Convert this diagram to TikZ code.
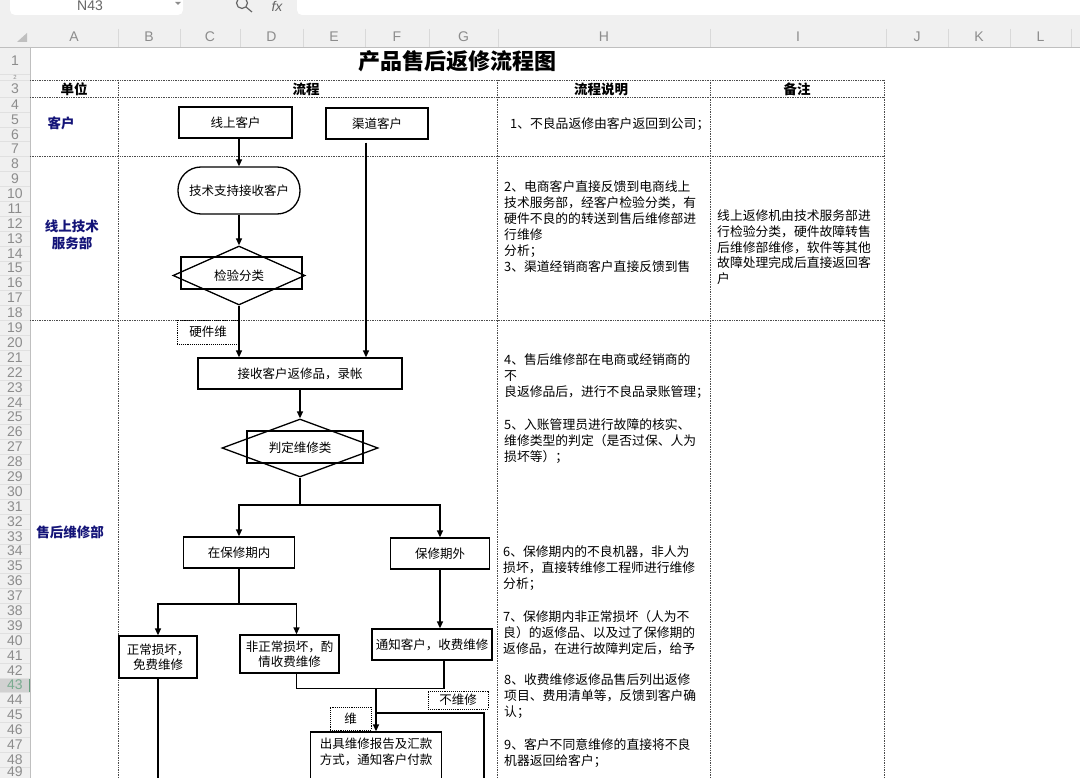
\documentclass[tikz,border=0pt]{standalone}
\usepackage{fontspec}
\setmainfont{Noto Sans CJK SC}
\newfontfamily\latina{Liberation Sans}
\usetikzlibrary{shapes.geometric,arrows.meta,calc}
\definecolor{azulUnidade}{RGB}{20,20,120}
\definecolor{cinzaExcel}{RGB}{240,240,240}
\definecolor{cinzaTexto}{RGB}{140,140,140}
\definecolor{verdeExcel}{RGB}{33,115,70}
\tikzset{
  caixa/.style={rectangle, draw, line width=1.3pt, inner sep=0pt,
                align=center, font=\fontsize{12.5}{15.5}\selectfont},
  arredondada/.style={caixa, rounded corners=23pt},
  losango/.style={diamond, draw, line width=1.3pt, aspect=2.2, inner sep=0pt,
                  font=\fontsize{12.5}{15.5}\selectfont},
  rotulo/.style={rectangle, draw, densely dotted, line width=0.9pt, inner sep=0pt,
                 font=\fontsize{12.5}{15.5}\selectfont},
  nota/.style={anchor=north west, inner sep=0pt, align=left,
               font=\fontsize{12.8}{15.7}\selectfont},
  unidade/.style={font=\fontsize{13.5}{17}\selectfont\bfseries, text=azulUnidade,
                  align=center, inner sep=0pt},
  cabecalho/.style={font=\fontsize{13.5}{14}\selectfont\bfseries, inner sep=0pt},
  seta/.style={-{Triangle[length=7pt,width=6pt]}, line width=1.3pt},
  linha/.style={line width=1.3pt},
  tabela/.style={densely dotted, line width=0.7pt, black!70},
  indice/.style={font=\latina\fontsize{14}{14}\selectfont, text=cinzaTexto, inner sep=0pt},
}
\begin{document}
\begin{tikzpicture}[x=1pt,y=-1pt]
  \clip (0,0) rectangle (1080,778);
  % moldura da planilha
  \fill[cinzaExcel] (0,0) rectangle (1080,47);
  \fill[cinzaExcel] (0,47) rectangle (30,778);
  \fill[white, rounded corners=5pt] (10,-10) rectangle (183,15);
  \fill[white, rounded corners=5pt] (297,-10) rectangle (1090,15);
  \node[indice, text=black!60] (caixaNome) at (90,6) {N43};
  \fill[black!45] (175,2) -- (181,2) -- (178,5) -- cycle;
  \draw[black!60, line width=1.2pt] (242,3) circle (5.5) (246,7) -- (252,12);
  \node[font=\latina\itshape\fontsize{14}{14}\selectfont, text=black!60, inner sep=0pt] (fx) at (277,6) {fx};
  \fill[black!25] (27,33) -- (27,42) -- (17,42) -- cycle;
  \draw[black!25] (0,47) -- (1080,47);
  \foreach \x in {118,180,240,303,365,429,498,710,886,948,1010,1071}
    \draw[black!15] (\x,29) -- (\x,47);
  \foreach \c/\x in {A/74,B/149,C/210,D/271.5,E/334,F/397,G/463.5,H/604,I/798,J/917,K/979,L/1040.5}
    \node[indice] (col\c) at (\x,36.5) {\c};
  % numeros das linhas
  \fill[black!18] (0,677.7) rectangle (30,692.6);
  \fill[verdeExcel!70] (28.5,677.7) rectangle (30.5,692.6);
  \draw[black!25] (30,47) -- (30,778);
  \foreach \y in {74,80}
    \draw[black!12] (0,\y) -- (30,\y);
  \foreach \k in {0,...,46}
    \draw[black!12] (0,{97+\k*14.89}) -- (30,{97+\k*14.89});
  \node[indice] (lin1) at (15,61) {1};
  \node[indice, font=\latina\fontsize{6}{6}\selectfont] (lin2) at (15,77) {2};
  \node[indice] (lin3) at (15,89) {3};
  \foreach \r in {4,...,42,44,45,46,47,48}
    \node[indice] (lin\r) at (15,{97+(\r-4)*14.89+7.45}) {\r};
  \node[indice, text=verdeExcel!60] (lin43) at (15,685.1) {43};
  \node[indice] (lin49) at (15,772) {49};

  % tabela
  \node[font=\fontsize{22}{22}\selectfont\bfseries, inner sep=0pt] (titulo) at (457,61) {产品售后返修流程图};
  \foreach \y in {80,97,156,320}
    \draw[tabela] (30,\y) -- (884,\y);
  \foreach \x in {118,497,710,884}
    \draw[tabela] (\x,80) -- (\x,778);
  \node[cabecalho] (hUnidade) at (74,89) {单位};
  \node[cabecalho] (hFluxo) at (306,89) {流程};
  \node[cabecalho] (hExplica) at (601,89) {流程说明};
  \node[cabecalho] (hObs) at (797,89) {备注};
  \node[unidade] (uCliente) at (61,123) {客户};
  \node[unidade] (uSuporte) at (72,235) {线上技术\\服务部};
  \node[unidade] (uReparo) at (70,532) {售后维修部};

  % fluxo
  \node[caixa, minimum width=113pt, minimum height=31pt] (clienteOnline) at (235.5,122.5) {线上客户};
  \node[caixa, minimum width=102pt, minimum height=31pt] (clienteCanal) at (377,123.5) {渠道客户};
  \node[arredondada, minimum width=122pt, minimum height=47pt] (suporte) at (239,190.5) {技术支持接收客户};
  \node[caixa, minimum width=121pt, minimum height=32pt] (triagemCaixa) at (241.5,273) {};
  \node[losango, minimum width=132pt, minimum height=59pt] (triagem) at (239,275.5) {检验分类};
  \node[rotulo, minimum width=62pt, minimum height=24pt] (rotHW) at (208,332) {硬件维};
  \node[caixa, minimum width=204pt, minimum height=31pt] (recepcao) at (300,373.5) {接收客户返修品，录帐};
  \node[caixa, minimum width=116pt, minimum height=32pt] (julgamentoCaixa) at (305,447) {};
  \node[losango, minimum width=156pt, minimum height=58pt] (julgamento) at (300,448) {判定维修类};
  \node[caixa, minimum width=111pt, minimum height=31pt] (garantia) at (239,552.5) {在保修期内};
  \node[caixa, minimum width=99pt, minimum height=31pt] (foraGarantia) at (440,553.5) {保修期外};
  \node[caixa, minimum width=78pt, minimum height=42pt] (normal) at (158,657) {正常损坏，\\免费维修};
  \node[caixa, minimum width=99pt, minimum height=38pt] (anormal) at (289.5,654) {非正常损坏，酌\\情收费维修};
  \node[caixa, minimum width=120pt, minimum height=31pt] (aviso) at (432,644.5) {通知客户，收费维修};
  \node[rotulo, minimum width=60pt, minimum height=18pt] (rotNao) at (458,700) {不维修};
  \node[rotulo, minimum width=41pt, minimum height=23pt] (rotRep) at (350.5,718.5) {维};
  \node[caixa, minimum width=131pt, minimum height=80pt] (relatorio) at (376,772) {};
  \node[inner sep=0pt, align=center, font=\fontsize{12.5}{15.5}\selectfont] (relatorioTexto) at (376,752)
       {出具维修报告及汇款\\方式，通知客户付款};

  \coordinate (canalDesce) at ([xshift=-11pt,yshift=-3pt]clienteCanal.south);
  \coordinate (j1) at (300,505);
  \coordinate (j2) at (239,604);
  \coordinate (j3) at (376,688);
  \coordinate (j4) at (376,713);
  \coordinate (devolve) at (484,790);
  \coordinate (fimNormal) at (158,790);
  \draw[seta] (suporte.north |- clienteOnline.south) -- (suporte.north);
  \draw[seta] (suporte.south) -- (triagem.north);
  \draw[seta] (triagem.south) -- (triagem.south |- recepcao.north);
  \draw[seta] (canalDesce) -- (canalDesce |- recepcao.north);
  \draw[seta] (recepcao.south) -- (julgamento.north);
  \draw[linha] (julgamento.south) -- (j1);
  \draw[seta] (j1) -| (garantia.north);
  \draw[seta] (j1) -| (foraGarantia.north);
  \draw[linha] (garantia.south) -- (j2);
  \draw[seta] (j2) -| (normal.north);
  \draw[seta] (j2) -| ([xshift=7pt]anormal.north);
  \draw[seta] (foraGarantia.south) -- (foraGarantia.south |- aviso.north);
  \draw[linha] ([xshift=7pt]anormal.south) -- ++(0,15) -| ([xshift=12pt]aviso.south);
  \draw[seta] (j3) -- (relatorio.north);
  \draw[linha] (j4) -| (devolve);
  \draw[linha] (normal.south) -- (fimNormal);

  % explicacoes
  \node[nota] (passo1) at (510,117.75) {1、不良品返修由客户返回到公司；};
  \node[nota, font=\fontsize{12.8}{16}\selectfont] (passo2) at (504,180.75)
       {2、电商客户直接反馈到电商线上\\技术服务部，经客户检验分类，有\\硬件不良的的转送到售后维修部进\\行维修\\分析；\\3、渠道经销商客户直接反馈到售};
  \node[nota] (passo4) at (504,353.75) {4、售后维修部在电商或经销商的\\不\\良返修品后，进行不良品录账管理；};
  \node[nota] (passo5) at (504,418.75) {5、入账管理员进行故障的核实、\\维修类型的判定（是否过保、人为\\损坏等）；};
  \node[nota] (passo6) at (503,545.75) {6、保修期内的不良机器，非人为\\损坏，直接转维修工程师进行维修\\分析；};
  \node[nota] (passo7) at (503,610.75) {7、保修期内非正常损坏（人为不\\良）的返修品、以及过了保修期的\\返修品，在进行故障判定后，给予};
  \node[nota] (passo8) at (504,673.75) {8、收费维修返修品售后列出返修\\项目、费用清单等，反馈到客户确\\认；};
  \node[nota] (passo9) at (504,738.75) {9、客户不同意维修的直接将不良\\机器返回给客户；};
  \node[nota] (obs) at (717,209.75) {线上返修机由技术服务部进\\行检验分类，硬件故障转售\\后维修部维修，软件等其他\\故障处理完成后直接返回客\\户};
\end{tikzpicture}
\end{document}
